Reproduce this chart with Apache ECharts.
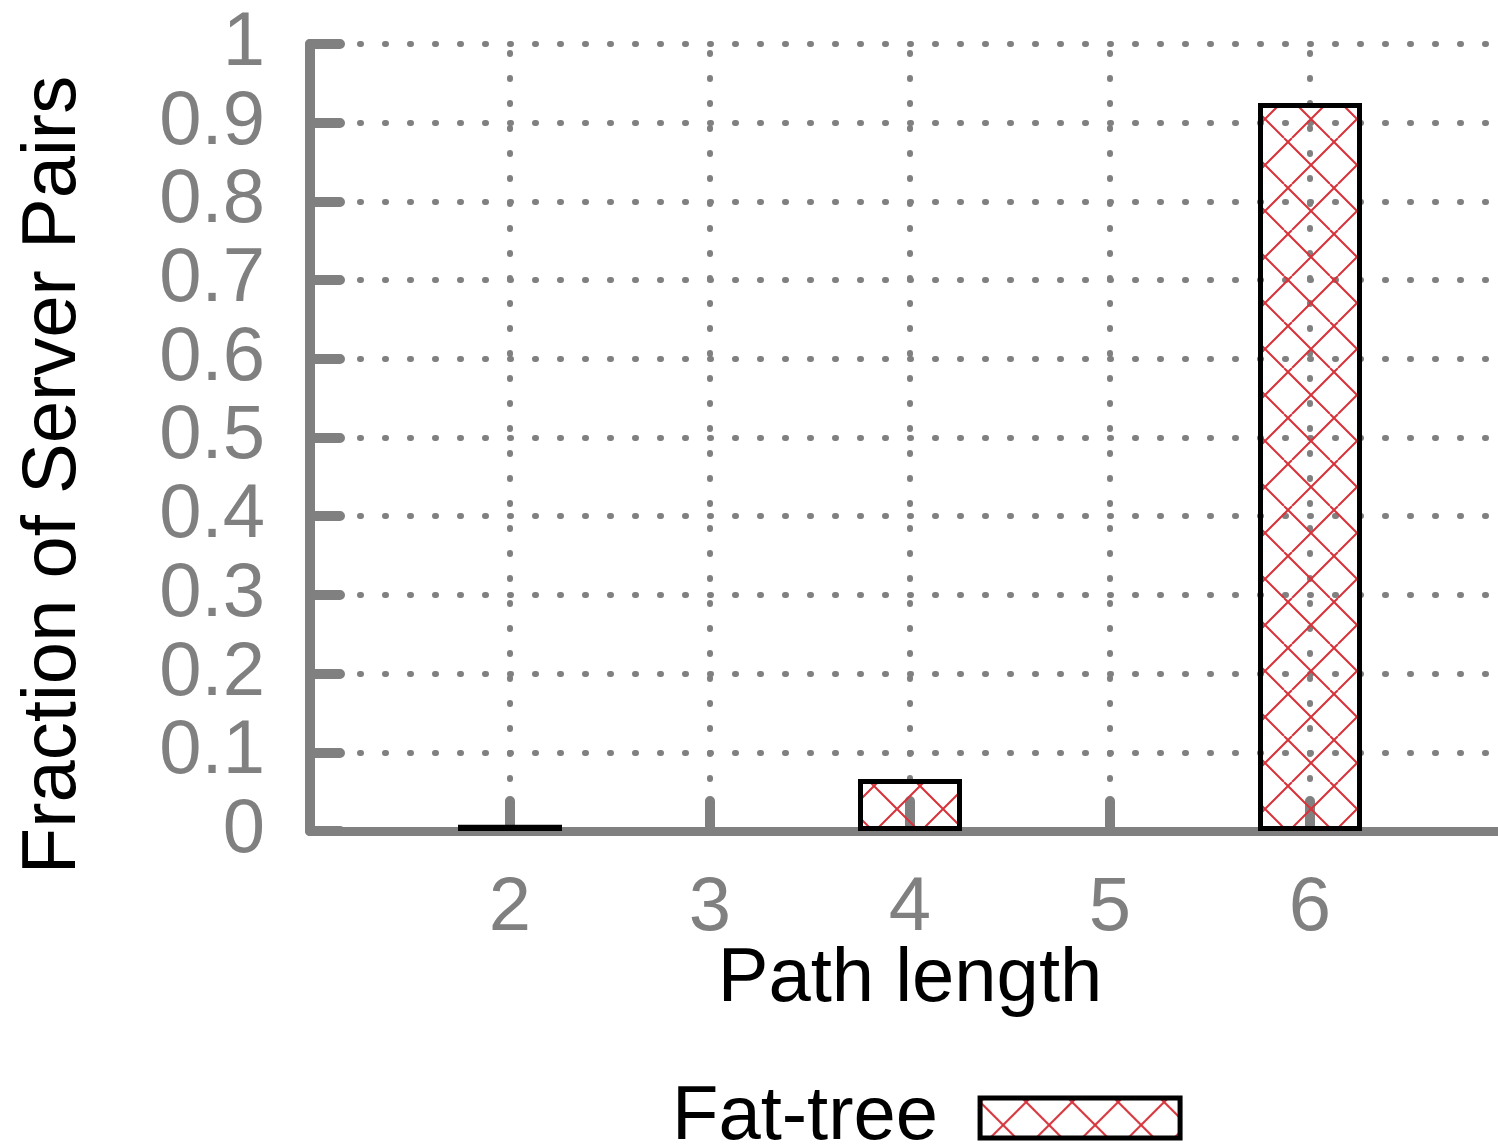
<!DOCTYPE html>
<html>
<head>
<meta charset="utf-8">
<title>Path length distribution</title>
<script src="https://cdn.jsdelivr.net/npm/echarts@6/dist/echarts.min.js"></script>
<style>
  html, body { margin: 0; padding: 0; background: #fff; }
  #chart { width: 1498px; height: 1145px; }
</style>
</head>
<body>
<div id="chart"></div>
<script>
// Path lengths (hops) and fraction of server pairs at each length
const pathLengths = [2, 4, 6];
const fatTreeFractions = [0.008, 0.066, 0.925];
const xTicks = [1, 2, 3, 4, 5, 6, 7];
const yTicks = [0, 0.1, 0.2, 0.3, 0.4, 0.5, 0.6, 0.7, 0.8, 0.9, 1];

const FONT = '"Liberation Sans", Arial, Helvetica, sans-serif';
const FONT_SIZE = 76;
const GRAY = '#808080';

// Red cross-hatch fill, tiled from the canvas origin
function makeHatch() {
  const size = 46;
  const c = document.createElement('canvas');
  c.width = size; c.height = size;
  const g = c.getContext('2d');
  g.strokeStyle = '#d6333a';
  g.lineWidth = 2;
  g.beginPath();
  [4, 50, 96].forEach(k => { g.moveTo(k, 0); g.lineTo(k - size, size); });
  [-50, -4, 42].forEach(k => { g.moveTo(k, 0); g.lineTo(k + size, size); });
  g.stroke();
  return c;
}
const hatch = { image: makeHatch(), repeat: 'repeat' };

const chart = echarts.init(document.getElementById('chart'), null, { renderer: 'canvas' });

chart.setOption({
  animation: false,
  backgroundColor: '#ffffff',
  grid: {
    left: 310, top: 44, width: 1200, height: 787,
    containLabel: false,
    outerBoundsMode: 'none'
  },
  xAxis: {
    type: 'value',
    min: xTicks[0],
    max: xTicks[xTicks.length - 1],
    interval: 1,
    axisLine: { show: true, lineStyle: { color: GRAY, width: 9, cap: 'round' } },
    axisTick: { show: true, inside: true, length: 30, lineStyle: { color: GRAY, width: 10, cap: 'round' } },
    axisLabel: {
      margin: 40,
      color: GRAY,
      fontFamily: FONT,
      fontSize: FONT_SIZE,
      formatter: v => (v > xTicks[0] && v < xTicks[xTicks.length - 1]) ? String(v) : ''
    },
    splitLine: {
      show: true,
      lineStyle: { color: GRAY, width: 6, type: [1, 24], dashOffset: 16, cap: 'round' }
    }
  },
  yAxis: {
    type: 'value',
    min: yTicks[0],
    max: yTicks[yTicks.length - 1],
    interval: 0.1,
    axisLine: { show: true, lineStyle: { color: GRAY, width: 10, cap: 'round' } },
    axisTick: { show: true, inside: true, length: 30, lineStyle: { color: GRAY, width: 10, cap: 'round' } },
    axisLabel: {
      margin: 45,
      color: GRAY,
      fontFamily: FONT,
      fontSize: FONT_SIZE,
      formatter: v => String(Math.round(v * 10) / 10)
    },
    splitLine: {
      show: true,
      lineStyle: { color: GRAY, width: 6, type: [1, 24], cap: 'round' }
    }
  },
  legend: {
    show: true,
    left: 667,
    top: 1075,
    align: 'right',
    icon: 'rect',
    itemWidth: 200,
    itemHeight: 40,
    itemStyle: { color: hatch, borderColor: '#000', borderWidth: 5 },
    textStyle: { color: '#000', fontFamily: FONT, fontSize: FONT_SIZE, padding: [0, 37, 18, 0] },
    data: ['Fat-tree']
  },
  graphic: [
    {
      type: 'text',
      x: 54, y: 475,
      rotation: Math.PI / 2,
      style: {
        text: 'Fraction of Server Pairs',
        fill: '#000', font: FONT_SIZE + 'px ' + FONT,
        align: 'center', verticalAlign: 'middle'
      }
    },
    {
      type: 'text',
      x: 910, y: 980,
      style: {
        text: 'Path length',
        fill: '#000', font: FONT_SIZE + 'px ' + FONT,
        align: 'center', verticalAlign: 'middle'
      }
    }
  ],
  series: [{
    name: 'Fat-tree',
    type: 'bar',
    barWidth: 104,
    itemStyle: { color: hatch, borderColor: '#000', borderWidth: 5 },
    data: pathLengths.map((x, i) => [x, fatTreeFractions[i]])
  }]
});
</script>
</body>
</html>
